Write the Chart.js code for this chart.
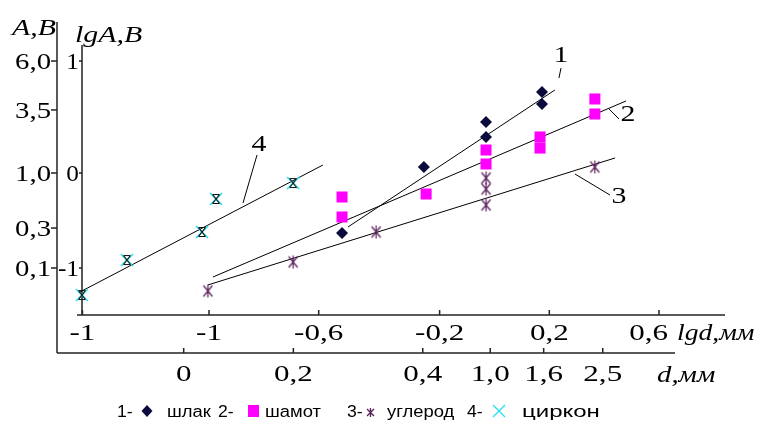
<!DOCTYPE html>
<html><head><meta charset="utf-8">
<script src="https://cdn.jsdelivr.net/npm/chart.js@4.4.1/dist/chart.umd.min.js"></script>
<style>html,body{margin:0;padding:0;background:#fff;overflow:hidden}</style>
</head><body>
<canvas id="c" width="759" height="428"></canvas>
<script>
// ---------- data (lg d, lg A,B) ----------
const seriesNames = ['шлак', 'шамот', 'углерод', 'циркон'];

const slagLgd   = [-0.527, -0.236, -0.015, -0.015, 0.184, 0.184];
const slagLgAB  = [-0.662, -0.024, 0.411, 0.266, 0.700, 0.585];

const chamotteLgd  = [-0.527, -0.527, -0.228, -0.015, -0.015, 0.177, 0.177, 0.372, 0.372];
const chamotteLgAB = [-0.314, -0.507, -0.285, 0.140, 0.005, 0.266, 0.159, 0.633, 0.488];

const carbonLgd  = [-1.004, -0.701, -0.406, -0.015, -0.015, -0.015, 0.372];
const carbonLgAB = [-1.222, -0.942, -0.652, -0.130, -0.237, -0.391, -0.024];

const zirconLgd  = [-1.452, -1.292, -1.025, -0.975, -0.701];
const zirconLgAB = [-1.261, -0.923, -0.652, -0.333, -0.179];

// fitted straight lines 1..4 (end points)
const fit1Lgd = [-0.506, 0.230], fit1LgAB = [-0.604, 0.720];
const fit2Lgd = [-0.986, 0.483], fit2LgAB = [-1.087, 0.614];
const fit3Lgd = [-1.004, 0.444], fit3LgAB = [-1.164, 0.063];
const fit4Lgd = [-1.459, -0.595], fit4LgAB = [-1.232, -0.005];

// axis ticks
const lgdTickValues = [-1.45, -1, -0.61, -0.18, 0.21, 0.6];
const lgdTickLabels = ['-1', '-1', '-0,6', '-0,2', '0,2', '0,6'];
const dTickValues   = [-1.09, -0.70, -0.24, 0.0, 0.19, 0.40];
const dTickLabels   = ['0', '0,2', '0,4', '1,0', '1,6', '2,5'];
const lgABTickValues = [1, -0.082, -1];
const lgABTickLabels = ['1', '0', '-1'];
const abTickValues   = [1, 0.527, -0.082, -0.614, -1];
const abTickLabels   = ['6,0', '3,5', '1,0', '0,3', '0,1'];

// curve number labels
const curveLabels = ['1', '2', '3', '4'];
const curveLabelLgd  = [0.2516, 0.4898, 0.4578, -0.8222];
const curveLabelLgAB = [1.048, 0.478, -0.314, 0.188];
const leaderLgd  = [[0.2516, 0.2444], [0.4187, 0.4578], [0.3013, 0.4258], [-0.8293, -0.8791]];
const leaderLgAB = [[0.932, 0.836], [0.546, 0.440], [-0.092, -0.295], [0.092, -0.372]];

// ---------- styles ----------
const NAVY = '#0a0a3c', MAGENTA = '#ff00ff', PURPLE = '#5a1f5a', CYAN = '#22e0ee';
const SERIF = '"Liberation Serif", "Times New Roman", serif';
const SANS = '"Liberation Sans", Arial, sans-serif';
const SX = 1.35;

function pts(xs, ys) { return xs.map((x, i) => ({x, y: ys[i]})); }

function makeZh(color, w, h, lw) {
  const c = document.createElement('canvas'); c.width = w; c.height = h;
  const g = c.getContext('2d'); g.strokeStyle = color; g.lineWidth = lw;
  g.beginPath();
  g.moveTo(w/2, 1); g.lineTo(w/2, h-1);
  g.moveTo(2, 2); g.lineTo(w-2, h-2);
  g.moveTo(w-2, 2); g.lineTo(2, h-2);
  g.stroke();
  return c;
}
function makeZircon() {
  const c = document.createElement('canvas'); c.width = 14; c.height = 14;
  const g = c.getContext('2d');
  g.strokeStyle = CYAN; g.lineWidth = 1.6;
  g.beginPath(); g.moveTo(1,1); g.lineTo(13,13); g.moveTo(13,1); g.lineTo(1,13); g.stroke();
  g.strokeStyle = '#111'; g.lineWidth = 1.2;
  g.beginPath();
  g.moveTo(3.5,2.5); g.lineTo(10.5,2.5); g.moveTo(3.5,11.5); g.lineTo(10.5,11.5);
  g.moveTo(3.5,2.5); g.lineTo(10.5,11.5); g.moveTo(10.5,2.5); g.lineTo(3.5,11.5);
  g.stroke();
  return c;
}
const zhMarker = makeZh(PURPLE, 13, 15, 1.2);
const zirconMarker = makeZircon();

function fitLine(xs, ys) {
  return {type: 'scatter', data: pts(xs, ys), showLine: true, borderColor: '#000', borderWidth: 1,
          pointRadius: 0, fill: false, clip: false, order: 10};
}

function txt(ctx, s, x, y, align, font, sx, base) {
  ctx.save(); ctx.font = font; ctx.textAlign = align; ctx.textBaseline = base || 'alphabetic';
  ctx.fillStyle = '#000'; ctx.translate(x, y); ctx.scale(sx, 1); ctx.fillText(s, 0, 0); ctx.restore();
}
function seg(ctx, x1, y1, x2, y2) { ctx.beginPath(); ctx.moveTo(x1, y1); ctx.lineTo(x2, y2); ctx.stroke(); }

const axesPlugin = {
  id: 'axesPlugin',
  beforeDatasetsDraw(chart) {
    const ctx = chart.ctx, ca = chart.chartArea;
    const X = v => chart.scales.x.getPixelForValue(v);
    const Y = v => chart.scales.y.getPixelForValue(v);
    const F = '23px ' + SERIF, FI = 'italic 23px ' + SERIF;
    ctx.save();
    ctx.strokeStyle = '#222'; ctx.lineWidth = 1.5;
    const outerX = ca.left - 25, dAxisY = ca.bottom + 38;
    // outer A,B axis
    seg(ctx, outerX, ca.top - 25, outerX, dAxisY);
    abTickValues.forEach((v, i) => {
      const y = Y(v); seg(ctx, outerX - 6, y, outerX, y);
      txt(ctx, abTickLabels[i], outerX - 6, y + 8, 'right', F, 1.25);
    });
    // inner lgA,B axis
    seg(ctx, ca.left, ca.top - 2, ca.left, ca.bottom);
    lgABTickValues.forEach((v, i) => {
      const y = Y(v); seg(ctx, ca.left - 3, y, ca.left, y);
      txt(ctx, lgABTickLabels[i], ca.left - 3, y + 8, 'right', F, 1.1);
    });
    // lg d axis
    seg(ctx, ca.left - 5, ca.bottom, ca.right, ca.bottom);
    lgdTickValues.forEach((v, i) => {
      const x = X(v); seg(ctx, x, ca.bottom, x, ca.bottom - 5);
      const last = i === lgdTickValues.length - 1;
      txt(ctx, lgdTickLabels[i], last ? x + 9 : x, ca.bottom + 25, last ? 'right' : 'center', F, SX);
    });
    txt(ctx, 'lgd,мм', X(lgdTickValues[lgdTickValues.length-1]) + 18, ca.bottom + 25, 'left', FI, 1.2);
    // d axis
    seg(ctx, outerX, dAxisY, ca.right - 50, dAxisY);
    dTickValues.forEach((v, i) => {
      const x = X(v); seg(ctx, x, dAxisY, x, dAxisY - 5);
      txt(ctx, dTickLabels[i], x, dAxisY + 28, 'center', F, SX);
    });
    txt(ctx, 'd,мм', ca.right - 68, dAxisY + 29, 'left', FI, 1.25);
    // axis titles
    txt(ctx, 'A,B', outerX - 45, ca.top - 12, 'left', FI, 1.3);
    txt(ctx, 'lgA,B', ca.left - 7, ca.top - 5, 'left', FI, 1.3);
    // curve labels with leader lines
    ctx.lineWidth = 1; ctx.strokeStyle = '#000';
    curveLabels.forEach((s, i) => {
      seg(ctx, X(leaderLgd[i][0]), Y(leaderLgAB[i][0]), X(leaderLgd[i][1]), Y(leaderLgAB[i][1]));
      txt(ctx, s, X(curveLabelLgd[i]), Y(curveLabelLgAB[i]), 'center', F, 1.3, 'middle');
    });
    ctx.restore();
  },
  afterDraw(chart) {
    const ctx = chart.ctx;
    const F = '16px ' + SANS, by = 417, cy = 411;
    ctx.save();
    // 1 - slag
    txt(ctx, '1-', 117, by, 'left', F, 1.1);
    ctx.fillStyle = NAVY; ctx.beginPath();
    ctx.moveTo(147, cy - 6); ctx.lineTo(152.5, cy); ctx.lineTo(147, cy + 6); ctx.lineTo(141.5, cy); ctx.closePath(); ctx.fill();
    txt(ctx, seriesNames[0], 167, by, 'left', F, 1.15);
    // 2 - chamotte
    txt(ctx, '2-', 218, by, 'left', F, 1.1);
    ctx.fillStyle = MAGENTA; ctx.fillRect(248, cy - 6, 11, 12);
    txt(ctx, seriesNames[1], 265, by, 'left', F, 1.15);
    // 3 - carbon
    txt(ctx, '3-', 347, by, 'left', F, 1.1);
    ctx.drawImage(makeZh(PURPLE, 11, 11, 1.3), 365, cy - 4);
    txt(ctx, seriesNames[2], 387, by, 'left', F, 1.15);
    // 4 - zircon
    txt(ctx, '4-', 467, by, 'left', F, 1.1);
    ctx.strokeStyle = CYAN; ctx.lineWidth = 1.2;
    seg(ctx, 493, cy - 6, 505, cy + 6); seg(ctx, 505, cy - 6, 493, cy + 6);
    txt(ctx, seriesNames[3], 522, by, 'left', F, 1.5);
    ctx.restore();
  }
};

new Chart(document.getElementById('c'), {
  type: 'scatter',
  data: {
    datasets: [
      {label: seriesNames[0], data: pts(slagLgd, slagLgAB), pointStyle: 'rectRot', pointRadius: 6,
       backgroundColor: NAVY, borderColor: NAVY, borderWidth: 0, clip: false, order: 1},
      {label: seriesNames[1], data: pts(chamotteLgd, chamotteLgAB), pointStyle: 'rect', pointRadius: 7.8,
       backgroundColor: MAGENTA, borderColor: MAGENTA, borderWidth: 0, clip: false, order: 2},
      {label: seriesNames[2], data: pts(carbonLgd, carbonLgAB), pointStyle: zhMarker, pointRadius: 7,
       clip: false, order: 3},
      {label: seriesNames[3], data: pts(zirconLgd, zirconLgAB), pointStyle: zirconMarker, pointRadius: 7,
       clip: false, order: 4},
      fitLine(fit1Lgd, fit1LgAB),
      fitLine(fit2Lgd, fit2LgAB),
      fitLine(fit3Lgd, fit3LgAB),
      fitLine(fit4Lgd, fit4LgAB)
    ]
  },
  options: {
    responsive: false, animation: false, devicePixelRatio: 1,
    layout: {padding: {left: 82, right: 34, top: 47, bottom: 113}},
    plugins: {legend: {display: false}, tooltip: {enabled: false}},
    scales: {
      x: {type: 'linear', min: -1.4516, max: 0.8347, display: false},
      y: {type: 'linear', min: -1.4541, max: 1.1353, display: false}
    }
  },
  plugins: [axesPlugin]
});
</script>
</body></html>
